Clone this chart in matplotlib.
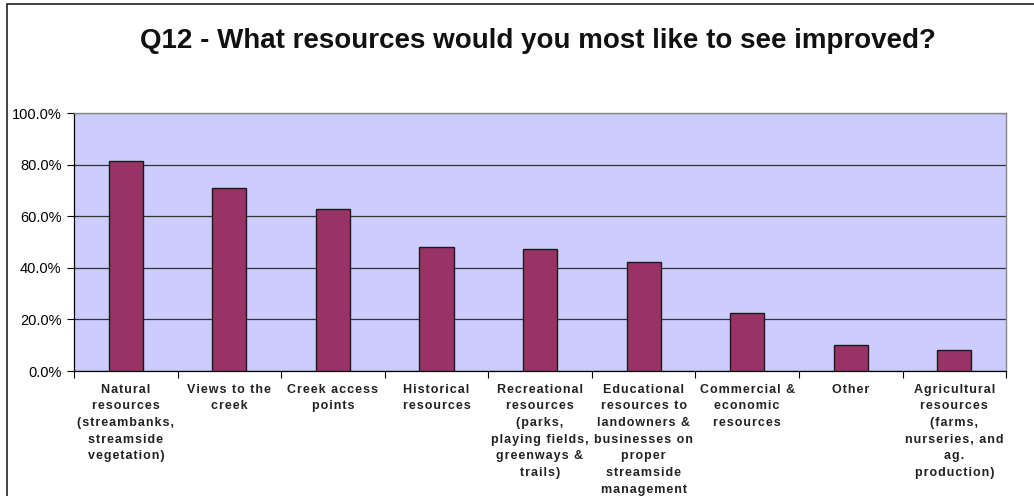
import matplotlib.pyplot as plt
from matplotlib.patches import Rectangle
from matplotlib.ticker import FuncFormatter, FixedLocator

plt.rcParams['font.family'] = ['Liberation Sans', 'DejaVu Sans']

# Antworten auf Frage 12 (Anteil der Befragten in %)
categories = [
    "Natural\nresources\n(streambanks,\nstreamside\nvegetation)",
    "Views to the\ncreek",
    "Creek access\npoints",
    "Historical\nresources",
    "Recreational\nresources\n(parks,\nplaying fields,\ngreenways &\ntrails)",
    "Educational\nresources to\nlandowners &\nbusinesses on\nproper\nstreamside\nmanagement",
    "Commercial &\neconomic\nresources",
    "Other",
    "Agricultural\nresources\n(farms,\nnurseries, and\nag.\nproduction)",
]
values = [81.4, 70.8, 63.0, 48.2, 47.3, 42.2, 22.5, 10.1, 8.1]
yticks = [0, 20, 40, 60, 80, 100]


def spaced(s):
    # etwas Sperrung zwischen den Buchstaben (Haarspatium)
    return "\n".join("\u200a".join(line) for line in s.split("\n"))


fig = plt.figure(figsize=(10.34, 4.96), dpi=100)
ax = fig.add_axes([0.0716, 0.252, 0.9014, 0.52])

x = list(range(len(values)))
ax.bar(x, values, width=0.33, color='#993366', edgecolor='#1a1a1a',
       linewidth=1.0, zorder=3)

ax.set_facecolor('#CCCCFF')
ax.set_xlim(-0.5, len(values) - 0.5)
ax.set_ylim(0, 100)

ax.set_yticks(yticks)
ax.yaxis.set_major_formatter(FuncFormatter(lambda v, p: f"{v:.1f}%"))
ax.tick_params(axis='y', direction='out', length=5, width=0.8,
               labelsize=10.5, pad=4, colors='black')
ax.grid(axis='y', color='#333333', linewidth=0.9, zorder=1)

# Kategorien mittig, Striche an den Grenzen
ax.set_xticks(x)
ax.set_xticklabels([spaced(c) for c in categories], fontsize=9,
                   fontweight='bold', linespacing=1.52, va='top')
ax.tick_params(axis='x', length=0, pad=9)
ax.xaxis.set_minor_locator(FixedLocator([i - 0.5 for i in range(len(values) + 1)]))
ax.tick_params(axis='x', which='minor', direction='out', length=5, width=0.8)
for lbl in ax.get_xticklabels():
    lbl.set_color('#222222')

for side in ['top', 'right']:
    ax.spines[side].set_color('#888888')
    ax.spines[side].set_linewidth(1.0)
for side in ['left', 'bottom']:
    ax.spines[side].set_color('black')
    ax.spines[side].set_linewidth(0.9)

fig.text(0.520, 0.918, "Q12 - What resources would you most like to see improved?",
         ha='center', va='center', fontsize=20, fontweight='bold',
         color='#111111')

# Rahmen um das Diagramm
fig.patches.append(Rectangle((7 / 1034, -0.1), 1.2, 1.1 - 4 / 496,
                             transform=fig.transFigure, fill=False,
                             edgecolor='#222222', linewidth=1.2))

fig.savefig('out.png', dpi=100, facecolor='white')
